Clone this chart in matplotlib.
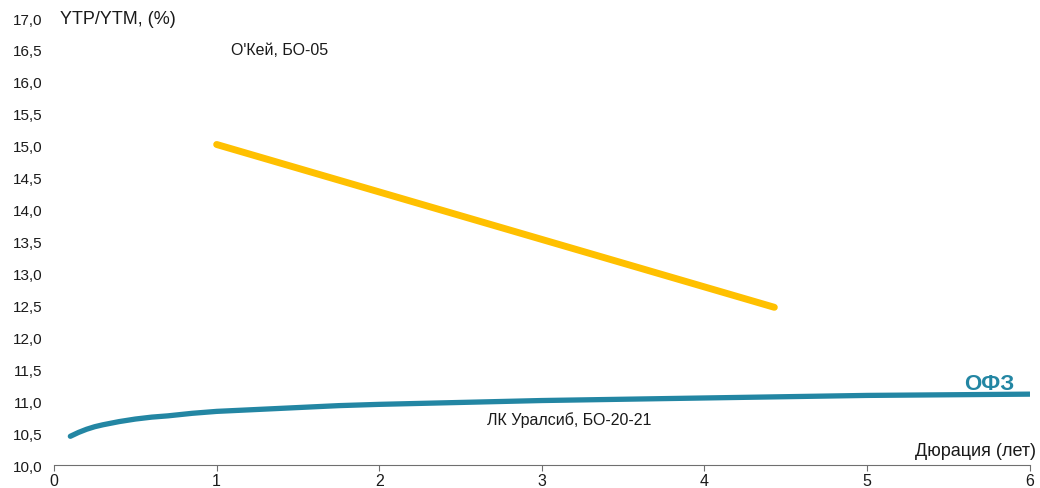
import matplotlib.pyplot as plt
from matplotlib.ticker import FuncFormatter, MultipleLocator

plt.rcParams['font.family'] = ['Liberation Sans', 'DejaVu Sans']

# кривая ОФЗ
ofz_dur = [0.1, 0.15, 0.2, 0.25, 0.3, 0.4, 0.5, 0.6, 0.7, 0.85, 1.0, 1.25, 1.5, 1.75, 2.0, 2.5,
           3.0, 3.5, 4.0, 4.5, 5.0, 5.5, 6.0]
ofz_ytm = [10.45, 10.51, 10.56, 10.60, 10.63, 10.68, 10.72, 10.75, 10.77, 10.81, 10.84, 10.87,
           10.90, 10.93, 10.95, 10.98, 11.01, 11.03, 11.05, 11.07, 11.09, 11.10, 11.11]

# О'Кей, БО-05
okey_dur = [1.0, 4.43]
okey_ytm = [15.02, 12.47]

teal = '#2386A3'
yellow = '#FFC000'

fig = plt.figure(figsize=(10.4, 4.89), dpi=100)
ax = fig.add_axes([0.052, 0.047, 0.938, 0.914])

ax.plot(okey_dur, okey_ytm, color=yellow, lw=5, solid_capstyle='round')
ax.plot(ofz_dur, ofz_ytm, color=teal, lw=3.8, solid_capstyle='round')

ax.set_xlim(0, 6)
ax.set_ylim(10, 17)
ax.xaxis.set_major_locator(MultipleLocator(1))
ax.yaxis.set_major_locator(MultipleLocator(0.5))
ax.yaxis.set_major_formatter(FuncFormatter(lambda v, p: f'{v:.1f}'.replace('.', ',')))

for s in ['top', 'right', 'left']:
    ax.spines[s].set_visible(False)
ax.spines['bottom'].set_color('#6f6f6f')
ax.tick_params(axis='x', colors='#6f6f6f', labelcolor='#1a1a1a', length=4, labelsize=11.5, pad=2)
ax.tick_params(axis='y', length=0, labelsize=11, pad=8.5, labelcolor='#1a1a1a')

ax.text(0.037, 17.0, 'YTP/YTM, (%)', fontsize=13, va='center', ha='left', color='#1a1a1a')
ax.text(6.04, 10.22, 'Дюрация (лет)', fontsize=13, va='center', ha='right', color='#1a1a1a')
ax.text(1.09, 16.51, "О'Кей, БО-05", fontsize=11.5, va='center', color='#1a1a1a')
ax.text(2.66, 10.72, 'ЛК Уралсиб, БО-20-21', fontsize=11.5, va='center', color='#1a1a1a')
ax.text(5.75, 11.27, 'ОФЗ', fontsize=16, fontweight='bold', color=teal, va='center', ha='center')

fig.savefig('out.png', dpi=100)
